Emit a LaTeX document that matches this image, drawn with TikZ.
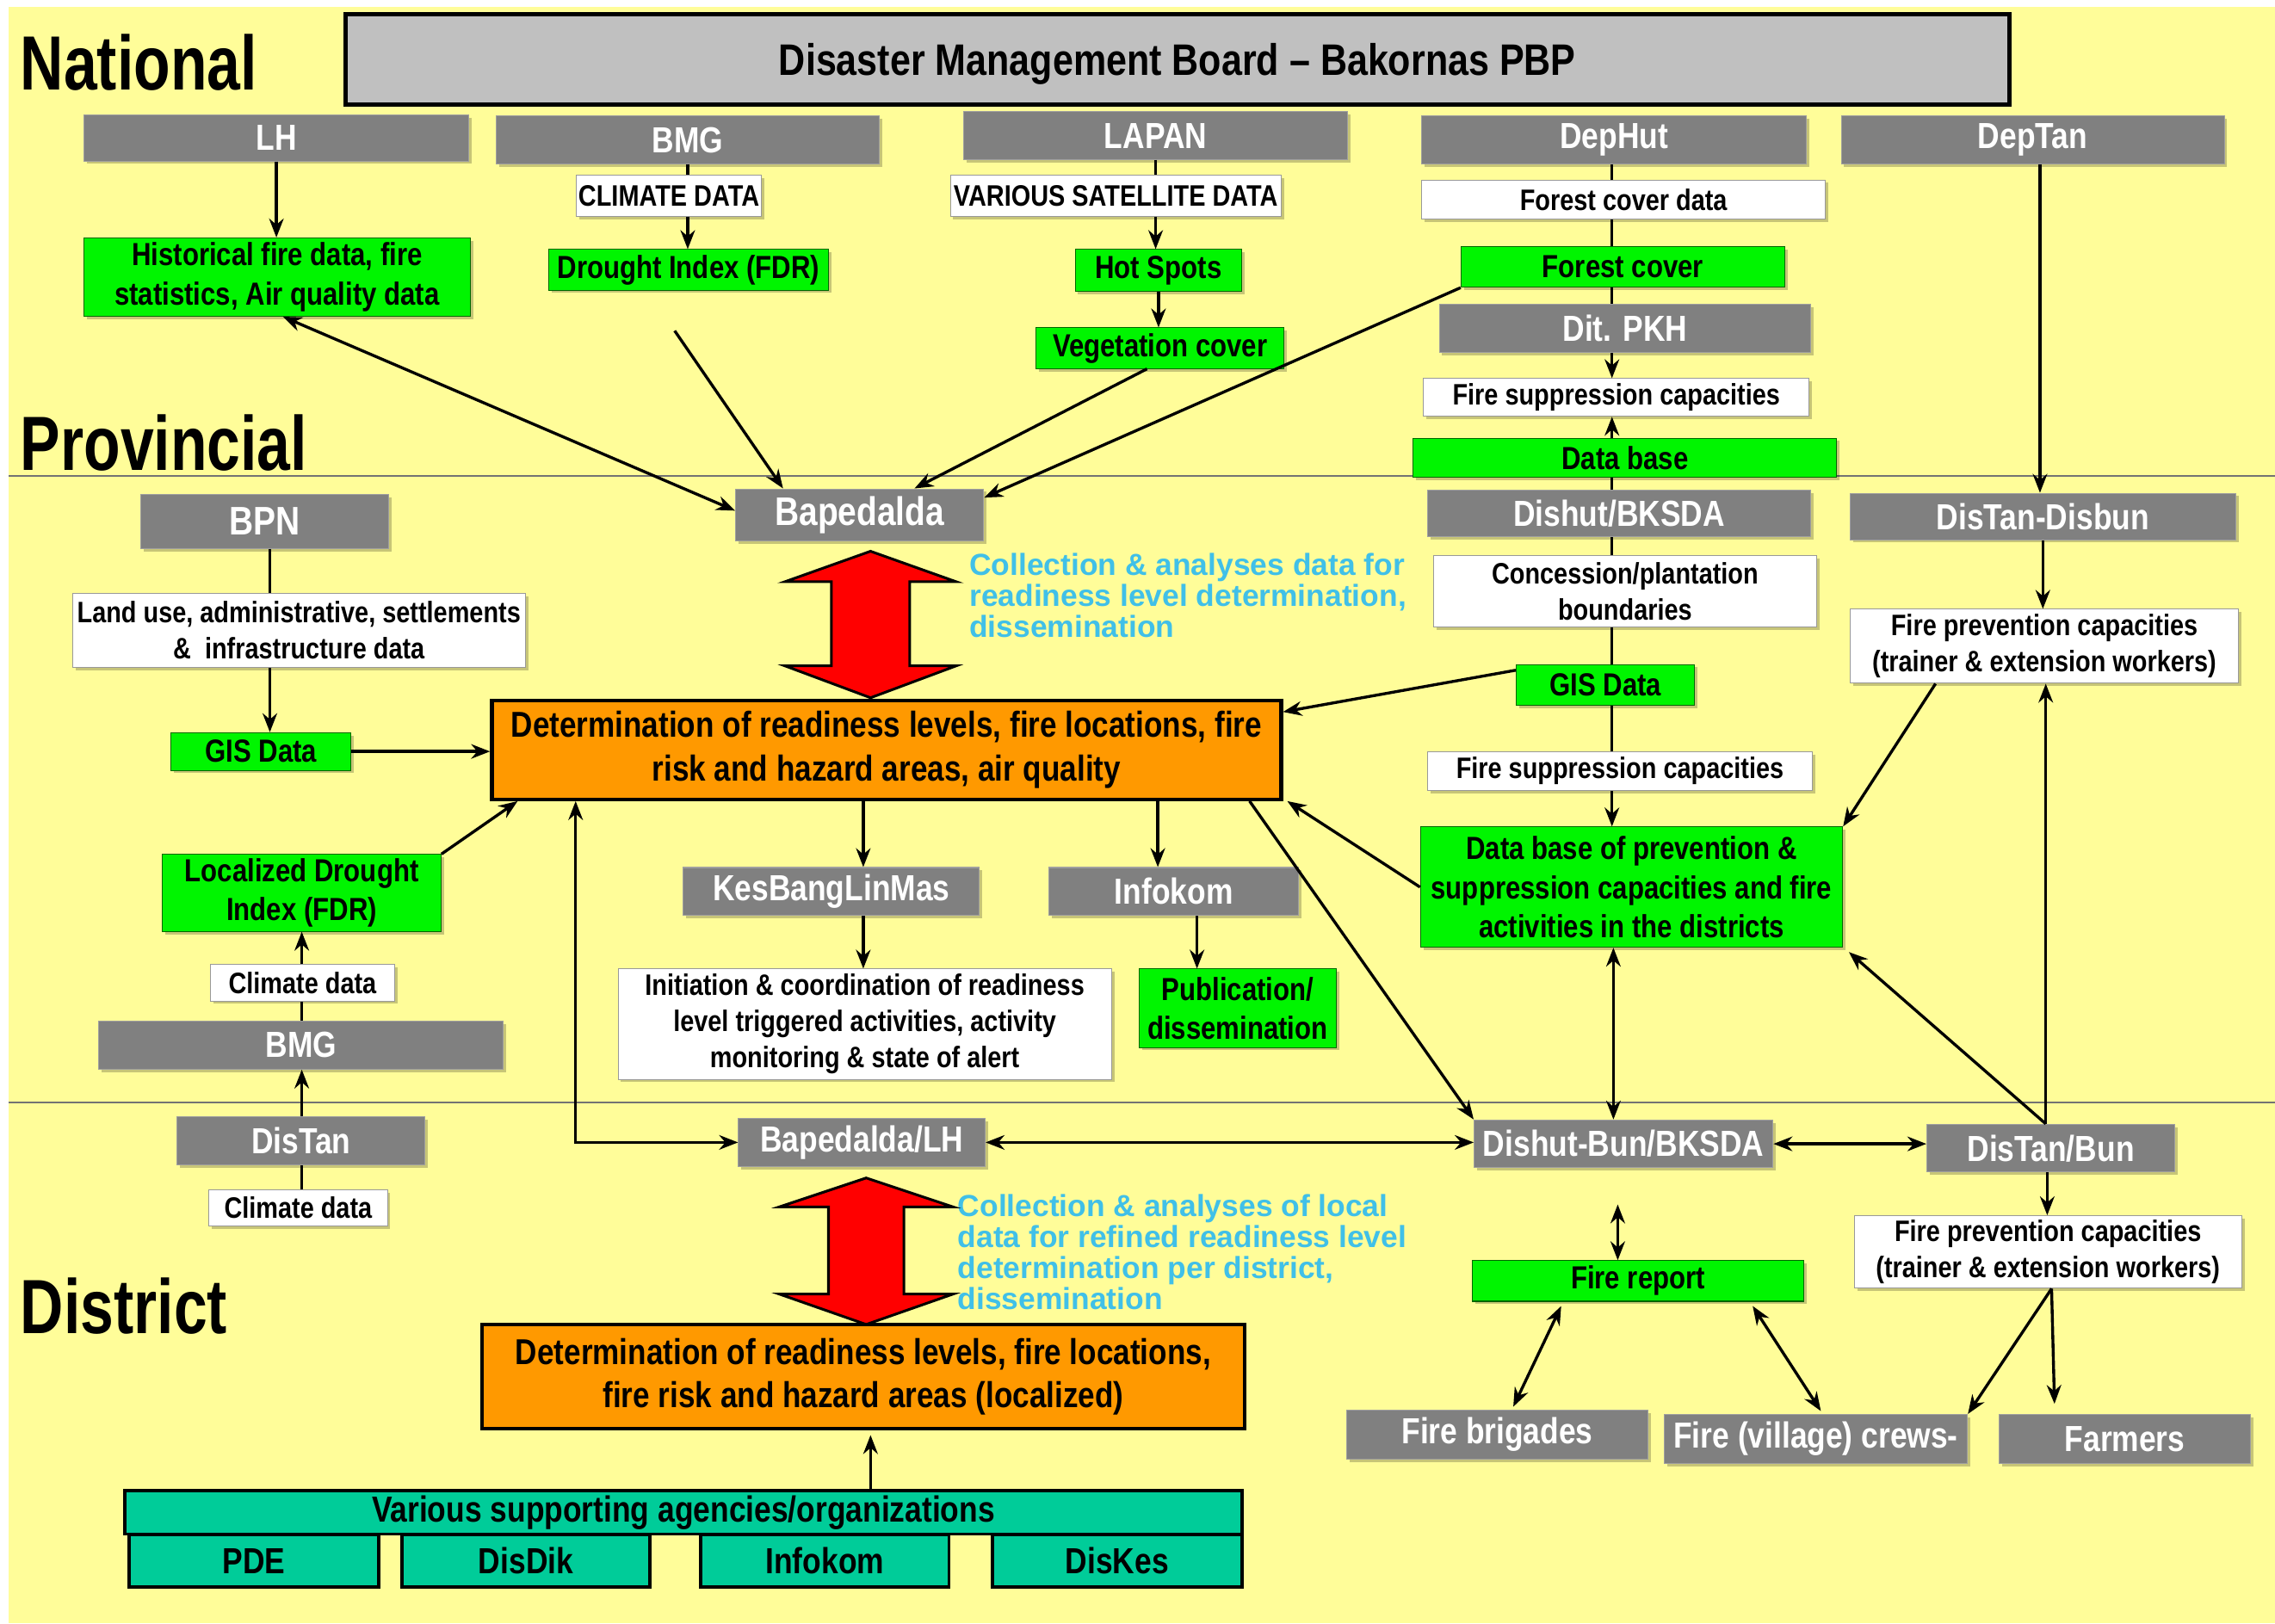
\documentclass[tikz,border=0pt]{standalone}
\usepackage{fontspec}
\setmainfont{Liberation Sans}
\newfontfamily\bxf{Liberation Sans}[FakeStretch=0.84]
\newfontfamily\hdf{Liberation Sans}[FakeStretch=0.78]
\usetikzlibrary{arrows.meta,calc,shadows}
\definecolor{bgy}{RGB}{255,253,153}
\definecolor{gbx}{RGB}{128,128,128}
\definecolor{grn}{RGB}{0,245,0}
\definecolor{org}{RGB}{255,153,0}
\definecolor{teal1}{RGB}{0,204,153}
\definecolor{cyn}{RGB}{64,192,232}
\definecolor{topg}{RGB}{192,192,192}
\tikzset{
 box/.style={rectangle, inner sep=0pt, align=center},
 shd/.style={drop shadow={shadow xshift=2pt,shadow yshift=-2pt,fill=black,opacity=0.22}},
 gbox/.style={box, shd, fill=gbx, draw=gray!75, line width=0.6pt, text=white, font=\bxf\bfseries\fontsize{25}{27}\selectfont},
 bigg/.style={font=\bxf\bfseries\fontsize{27.5}{29}\selectfont},
 gnbox/.style={box, shd, fill=grn, draw=green!40!black, line width=0.6pt, font=\bxf\bfseries\fontsize{22}{27}\selectfont},
 wbox/.style={box, shd, fill=white, draw=gray!80, line width=0.6pt, font=\bxf\bfseries\fontsize{20.4}{25}\selectfont},
 obox/.style={box, fill=org, draw=black, line width=2.5pt, font=\bxf\bfseries\fontsize{24.8}{30}\selectfont},
 tbox/.style={box, fill=teal1, draw=black, line width=2.2pt, font=\bxf\bfseries\fontsize{25}{27}\selectfont},
 headtxt/.style={inner sep=0pt, font=\hdf\bfseries\fontsize{53}{55}\selectfont, anchor=base west},
 notetxt/.style={inner sep=0pt, align=left, text=cyn, font=\bfseries\fontsize{21}{21.5}\selectfont, anchor=north west},
 ln/.style={line width=2pt},
 arr/.style={ln, -{Stealth[length=13pt,width=10pt]}},
 darr/.style={ln, {Stealth[length=13pt,width=10pt]}-{Stealth[length=13pt,width=10pt]}},
 sepline/.style={line width=1pt, draw=gray!90!black},
 bigarr/.style={fill=red, draw=black, line width=1.8pt, line join=miter},
}
\begin{document}
\begin{tikzpicture}[x=1pt,y=-1pt]
\useasboundingbox (0,0) rectangle (1568,1119);
\fill[white] (0,0) rectangle (1568,1119);
\fill[bgy] (6,5) rectangle (1568,1119);
\draw[sepline] (6,328) -- (1568,328);
\draw[sepline] (6,760) -- (1568,760);

% headings
\node[headtxt] (hN) at (14,62) {National};
\node[headtxt] (hP) at (14,324) {Provincial};
\node[headtxt] (hD) at (14,919) {District};

% top
\node[box, fill=topg, draw=black, line width=3pt, minimum width=1147pt, minimum height=62pt, text depth=0pt, font=\bxf\bfseries\fontsize{30.4}{32}\selectfont] (DMB) at (811.5,41) {Disaster Management Board – Bakornas PBP};

% national row
\node[gbox, minimum width=265pt, minimum height=32pt] (LH) at (190.5,95) {LH};
\node[gbox, minimum width=264pt, minimum height=33pt] (BMG1) at (474,96.5) {BMG};
\node[gbox, minimum width=265pt, minimum height=33pt] (LAPAN) at (796.5,93.5) {LAPAN};
\node[gbox, minimum width=265pt, minimum height=33pt] (DepHut) at (1112.5,96.5) {DepHut};
\node[gbox, minimum width=264pt, minimum height=33pt] (DepTan) at (1401,96.5) {DepTan};

\node[wbox, minimum width=128pt, minimum height=28pt] (CLIM) at (461,135) {CLIMATE DATA};
\node[wbox, minimum width=228pt, minimum height=28pt] (SAT) at (769,135) {VARIOUS SATELLITE DATA};
\node[wbox, minimum width=278pt, minimum height=27pt] (FCD) at (1119,137.5) {Forest cover data};

\node[gnbox, minimum width=266pt, minimum height=54pt] (Hist) at (191,191) {Historical fire data, fire\\statistics, Air quality data};
\node[gnbox, minimum width=193pt, minimum height=28pt] (Drought) at (474.5,186) {Drought Index (FDR)};
\node[gnbox, minimum width=115pt, minimum height=29pt] (Hot) at (798.5,186.5) {Hot Spots};
\node[gnbox, minimum width=171pt, minimum height=28pt] (Veg) at (799.5,240) {Vegetation cover};
\node[gnbox, minimum width=223pt, minimum height=28pt] (FC) at (1118.5,184) {Forest cover};
\node[gbox, minimum width=256pt, minimum height=33pt] (PKH) at (1120,226.5) {Dit. PKH};
\node[wbox, minimum width=266pt, minimum height=26pt] (FSC1) at (1114,274) {Fire suppression capacities};
\node[gnbox, minimum width=292pt, minimum height=27pt] (DBase) at (1120,315.5) {Data base};

% provincial
\node[gbox, bigg, minimum width=171pt, minimum height=36pt] (Bap) at (592.5,355) {Bapedalda};
\node[gbox, bigg, minimum width=171pt, minimum height=37pt] (BPN) at (182.5,359.5) {BPN};
\node[wbox, minimum width=312pt, minimum height=51pt] (LandUse) at (206,434.5) {Land use, administrative, settlements\\\&~ infrastructure data};
\node[gnbox, minimum width=124pt, minimum height=26pt] (GIS1) at (180,518) {GIS Data};
\node[obox, minimum width=544pt, minimum height=68pt] (Or1) at (611,517) {Determination of readiness levels, fire locations, fire\\risk and hazard areas, air quality};
\node[gnbox, minimum width=192pt, minimum height=53pt] (Loc) at (208,615.5) {Localized Drought\\Index (FDR)};
\node[wbox, minimum width=127pt, minimum height=25pt] (Clim1) at (208.5,677.5) {Climate data};
\node[gbox, minimum width=279pt, minimum height=33pt] (BMG2) at (207.5,720.5) {BMG};
\node[gbox, minimum width=204pt, minimum height=33pt] (KB) at (573,614.5) {KesBangLinMas};
\node[gbox, minimum width=172pt, minimum height=33pt] (Info1) at (809,614.5) {Infokom};
\node[wbox, minimum width=340pt, minimum height=76pt] (Init) at (596,706) {Initiation \& coordination of readiness\\level triggered activities, activity\\monitoring \& state of alert};
\node[gnbox, minimum width=136pt, minimum height=54pt] (Pub) at (853,695) {Publication/\\dissemination};
\node[gbox, minimum width=264pt, minimum height=32pt] (Dishut) at (1116,354) {Dishut/BKSDA};
\node[wbox, minimum width=264pt, minimum height=49pt] (Conc) at (1120,407.5) {Concession/plantation\\boundaries};
\node[gnbox, minimum width=123pt, minimum height=28pt] (GIS2) at (1106.5,472) {GIS Data};
\node[wbox, minimum width=265pt, minimum height=27pt] (FSC2) at (1116.5,531.5) {Fire suppression capacities};
\node[gnbox, minimum width=291pt, minimum height=83pt] (DBprev) at (1124.5,611.5) {Data base of prevention \&\\suppression capacities and fire\\activities in the districts};
\node[gbox, minimum width=266pt, minimum height=32pt] (DTDisbun) at (1408,356) {DisTan-Disbun};
\node[wbox, minimum width=268pt, minimum height=51pt] (FP1) at (1409,445.5) {Fire prevention capacities\\(trainer \& extension workers)};

\node[notetxt] (N1) at (668,381) {Collection \& analyses data for\\readiness level determination,\\dissemination};

% district
\node[gbox, minimum width=171pt, minimum height=33pt] (DisTan) at (207.5,786.5) {DisTan};
\node[wbox, minimum width=123pt, minimum height=25pt] (Clim2) at (205.5,832.5) {Climate data};
\node[gbox, minimum width=170pt, minimum height=33pt] (BapLH) at (594,787.5) {Bapedalda/LH};
\node[gbox, minimum width=206pt, minimum height=33pt] (DB2) at (1119,788.5) {Dishut-Bun/BKSDA};
\node[gbox, minimum width=171pt, minimum height=33pt] (DTBun) at (1413.5,791.5) {DisTan/Bun};
\node[wbox, minimum width=267pt, minimum height=50pt] (FP2) at (1411.5,863) {Fire prevention capacities\\(trainer \& extension workers)};
\node[gnbox, minimum width=228pt, minimum height=28pt] (FR) at (1129,883) {Fire report};
\node[gbox, minimum width=208pt, minimum height=34pt] (FB) at (1032,989) {Fire brigades};
\node[gbox, minimum width=209pt, minimum height=34pt] (FVC) at (1251.5,992) {Fire (village) crews-};
\node[gbox, minimum width=173pt, minimum height=34pt] (Farm) at (1464.5,992) {Farmers};
\node[obox, minimum width=526pt, minimum height=72pt] (Or2) at (595,949) {Determination of readiness levels, fire locations,\\fire risk and hazard areas (localized)};
\node[tbox, minimum width=770pt, minimum height=30pt] (Teal) at (471,1042.5) {Various supporting agencies/organizations};
\node[tbox, minimum width=172pt, minimum height=36pt] (PDE) at (175,1076) {PDE};
\node[tbox, minimum width=171pt, minimum height=36pt] (DisDik) at (362.5,1076) {DisDik};
\node[tbox, minimum width=171pt, minimum height=36pt] (Info2) at (568.5,1076) {Infokom};
\node[tbox, minimum width=172pt, minimum height=36pt] (DisKes) at (770,1076) {DisKes};

\node[notetxt] (N2) at (660,823) {Collection \& analyses of local\\data for refined readiness level\\determination per district,\\dissemination};

% big red arrows
\draw[bigarr] (600,380) -- (659,401) -- (627,401) -- (627,459) -- (659,459) -- (600,481) -- (541,459) -- (573,459) -- (573,401) -- (541,401) -- cycle;
\draw[bigarr] (597,812) -- (657,832) -- (623,832) -- (623,892) -- (657,892) -- (597,913) -- (537,892) -- (571,892) -- (571,832) -- (537,832) -- cycle;

% column coordinates
\coordinate (cDH) at (1111,0);
\coordinate (cDT) at (1406,0);
\coordinate (cDT2) at (1408,0);
\coordinate (cDT3) at (1410,0);
\coordinate (cDT4) at (1411,0);
\coordinate (cB) at (186,0);
\coordinate (cL) at (208,0);
\coordinate (cK) at (595,0);
\coordinate (cI) at (798,0);
\coordinate (cP) at (825,0);
\coordinate (cFR) at (1115,0);
\coordinate (cV) at (600,0);
\coordinate (dstart) at (465,228);

% national connectors
\draw[arr] (LH.south) -- (LH.south |- Hist.north);
\draw[ln] (BMG1.south) -- (BMG1.south |- CLIM.north);
\draw[arr] (BMG1.south |- CLIM.south) -- (BMG1.south |- Drought.north);
\draw[ln] (LAPAN.south) -- (LAPAN.south |- SAT.north);
\draw[arr] (LAPAN.south |- SAT.south) -- (LAPAN.south |- Hot.north);
\draw[arr] (Hot.south) -- (Hot.south |- Veg.north);
\draw[ln] (cDH |- DepHut.south) -- (cDH |- FCD.north);
\draw[ln] (cDH |- FCD.south) -- (cDH |- FC.north);
\draw[ln] (cDH |- FC.south) -- (cDH |- PKH.north);
\draw[arr] (cDH |- PKH.south) -- (cDH |- FSC1.north);
\draw[arr] (cDH |- DBase.north) -- (cDH |- FSC1.south);
\draw[ln] (cDH |- DBase.south) -- (cDH |- Dishut.north);
\draw[ln] (cDH |- Dishut.south) -- (cDH |- Conc.north);
\draw[ln] (cDH |- Conc.south) -- (cDH |- GIS2.north);
\draw[ln] (cDH |- GIS2.south) -- (cDH |- FSC2.north);
\draw[arr] (cDH |- FSC2.south) -- (cDH |- DBprev.north);
\draw[darr] ($(cDH |- DBprev.south)+(1,0)$) -- ($(cDH |- DB2.north)+(1,0)$);
\draw[arr] (cDT |- DepTan.south) -- (cDT |- DTDisbun.north);
\draw[arr] (cDT2 |- DTDisbun.south) -- (cDT2 |- FP1.north);

% to Bapedalda
\draw[darr] ([xshift=4pt]Hist.south) -- ([yshift=3pt]Bap.west);
\draw[arr] (dstart) -- ([xshift=33pt]Bap.north west);
\draw[arr] ([xshift=-9pt]Veg.south) -- ([xshift=-48pt]Bap.north east);
\draw[arr] (FC.south west) -- ([yshift=12pt]Bap.east);

% left column
\draw[ln] (cB |- BPN.south) -- (cB |- LandUse.north);
\draw[arr] (cB |- LandUse.south) -- (cB |- GIS1.north);
\draw[arr] (GIS1.east) -- (GIS1.east -| Or1.west);
\draw[arr] (Loc.north east) -- ([xshift=19pt]Or1.south west);
\draw[arr] (cL |- Clim1.north) -- (cL |- Loc.south);
\draw[ln] (cL |- BMG2.north) -- (cL |- Clim1.south);
\draw[arr] (cL |- DisTan.north) -- (cL |- BMG2.south);
\draw[ln] (cL |- Clim2.north) -- (cL |- DisTan.south);

% orange 1 connectors
\draw[darr] ([xshift=59pt]Or1.south west) |- (BapLH.west);
\draw[arr] (cK |- Or1.south) -- (cK |- KB.north);
\draw[arr] (cK |- KB.south) -- (cK |- Init.north);
\draw[arr] (cI |- Or1.south) -- (cI |- Info1.north);
\draw[arr] (cP |- Info1.south) -- (cP |- Pub.north);
\draw[arr] ([yshift=10pt]GIS2.west) -- ([yshift=-9pt]Or1.north east);
\draw[arr] (DBprev.west) -- ([xshift=3pt]Or1.south east);
\draw[arr] ([xshift=-23pt]Or1.south east) -- (DB2.north west);

% right side
\draw[arr] ([xshift=-75pt]FP1.south) -- (DBprev.north east);
\draw[arr] (cDT3 |- DTBun.north) -- (cDT3 |- FP1.south);
\draw[arr] (cDT3 |- DTBun.north) -- ([xshift=4pt,yshift=-3pt]DBprev.south east);
\draw[arr] (cDT4 |- DTBun.south) -- (cDT4 |- FP2.north);
\draw[arr] ([xshift=2.5pt]FP2.south) -- (FVC.north east);
\draw[arr] ([xshift=2.5pt]FP2.south) -- ([xshift=-48.5pt,yshift=7pt]Farm.north);

% district row
\draw[darr] (BapLH.east) -- (BapLH.east -| DB2.west);
\draw[darr] (DB2.east) -- (DB2.east -| DTBun.west);
\draw[darr] ($(cFR |- DB2.south)+(0,25)$) -- (cFR |- FR.north);
\draw[darr] ([xshift=-53pt,yshift=-3pt]FR.south) -- ([xshift=11pt,yshift=2pt]FB.north);
\draw[darr] ([xshift=79pt,yshift=-3pt]FR.south) -- ([xshift=3.5pt,yshift=2pt]FVC.north);
\draw[arr] (cV |- Teal.north) -- ($(cV |- Or2.south)+(0,3)$);
\end{tikzpicture}
\end{document}
